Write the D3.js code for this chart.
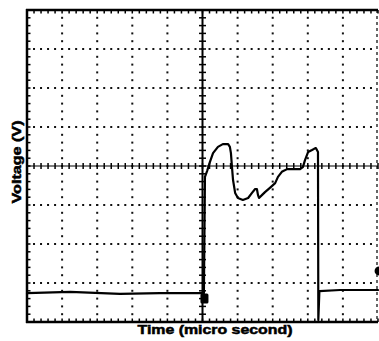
<!DOCTYPE html>
<html>
<head>
<meta charset="utf-8">
<script src="https://cdn.jsdelivr.net/npm/d3@7"></script>
<style>
  html, body { margin: 0; padding: 0; background: #fff; }
  svg { display: block; }
</style>
</head>
<body>
<svg id="chart" width="379" height="341"></svg>
<script>
// ---- data (screen divisions) ----
const xDivisions = [0, 1, 2, 3, 4, 5, 6, 7, 8, 9, 10];
const yDivisions = [-4, -3, -2, -1, 0, 1, 2, 3, 4];
const xLabel = "Time (micro second)";
const yLabel = "Voltage (V)";

const traceTime = [0, 1.23, 2.65, 3.79, 5.04, 5.07, 5.13, 5.21, 5.30, 5.44, 5.58, 5.73, 5.78, 5.81, 5.84, 5.87,
  5.93, 6.01, 6.15, 6.30, 6.41, 6.50, 6.55, 6.58, 6.61, 6.70, 6.78, 6.92, 7.07, 7.15, 7.26, 7.41, 7.58, 7.78,
  7.86, 7.92, 8.01, 8.12, 8.18, 8.23, 8.26, 8.29, 8.30, 8.33, 8.92, 10];
const traceVolt = [-3.26, -3.23, -3.28, -3.26, -3.26, -0.28, -0.13, 0.10, 0.33, 0.49, 0.56, 0.56, 0.49, 0.33, -0.03, -0.36,
  -0.69, -0.82, -0.87, -0.82, -0.69, -0.59, -0.59, -0.74, -0.82, -0.74, -0.67, -0.56, -0.44, -0.28, -0.15, -0.08, -0.08, -0.08,
  -0.03, 0.15, 0.36, 0.41, 0.44, 0.46, 0.41, 0.36, -3.95, -3.21, -3.18, -3.18];

const triggerMarker = { t: 5.07, v: -3.4 };
const levelMarker = { t: 10.03, v: -2.69 };

// ---- layout ----
const svg = d3.select("#chart");
const x = d3.scaleLinear().domain([0, 10]).range([27, 378]);
const y = d3.scaleLinear().domain([-4, 4]).range([322, 10]);

const minorX = d3.range(0, 50 + 1).map(i => i / 5);
const minorY = d3.range(-20, 20 + 1).map(i => i / 5);

// dotted grid
const g = svg.append("g");
const innerY = yDivisions.filter(v => v !== 0 && v !== -4 && v !== 4);
const innerX = xDivisions.filter(v => v !== 5 && v !== 0 && v !== 10);
innerY.forEach(v => {
  g.selectAll(null).data(minorX.filter(t => t > 0 && t < 10)).enter().append("rect")
    .attr("x", t => x(t) - 1).attr("y", y(v) - 1).attr("width", 2).attr("height", 2).attr("fill", "#111");
});
innerX.forEach(t => {
  g.selectAll(null).data(minorY.filter(v => v > -4 && v < 4)).enter().append("rect")
    .attr("x", x(t) - 1).attr("y", v => y(v) - 1).attr("width", 2).attr("height", 2).attr("fill", "#111");
});

// center axes with cross ticks
svg.append("line").attr("x1", x(0)).attr("x2", x(10)).attr("y1", y(0)).attr("y2", y(0))
  .attr("stroke", "#000").attr("stroke-width", 1.2);
svg.selectAll(null).data(minorX).enter().append("line")
  .attr("x1", t => x(t)).attr("x2", t => x(t)).attr("y1", y(0) - 3).attr("y2", y(0) + 3)
  .attr("stroke", "#000").attr("stroke-width", 1.5);
svg.append("line").attr("x1", x(5)).attr("x2", x(5)).attr("y1", y(4)).attr("y2", y(-4))
  .attr("stroke", "#000").attr("stroke-width", 2);
svg.selectAll(null).data(minorY).enter().append("line")
  .attr("y1", v => y(v)).attr("y2", v => y(v)).attr("x1", x(5) - 3.5).attr("x2", x(5) + 3.5)
  .attr("stroke", "#000").attr("stroke-width", 1.5);

// border
svg.append("line").attr("x1", x(0) - 1).attr("x2", x(10)).attr("y1", y(4)).attr("y2", y(4))
  .attr("stroke", "#000").attr("stroke-width", 2.5);
svg.append("line").attr("x1", x(0) - 1).attr("x2", x(10)).attr("y1", y(-4)).attr("y2", y(-4))
  .attr("stroke", "#000").attr("stroke-width", 2.5);
svg.append("line").attr("x1", x(0)).attr("x2", x(0)).attr("y1", y(4) - 1).attr("y2", y(-4) + 1)
  .attr("stroke", "#000").attr("stroke-width", 2.5);
svg.append("line").attr("x1", x(10) - 1).attr("x2", x(10) - 1).attr("y1", y(4)).attr("y2", y(-4))
  .attr("stroke", "#000").attr("stroke-width", 1.2).attr("stroke-dasharray", "3 3");
// border ticks
svg.selectAll(null).data(minorX).enter().append("line")
  .attr("x1", t => x(t)).attr("x2", t => x(t)).attr("y1", y(4)).attr("y2", y(4) + 3.5)
  .attr("stroke", "#000").attr("stroke-width", 1.5);
svg.selectAll(null).data(minorX).enter().append("line")
  .attr("x1", t => x(t)).attr("x2", t => x(t)).attr("y1", y(-4)).attr("y2", y(-4) - 3.5)
  .attr("stroke", "#000").attr("stroke-width", 1.5);
svg.selectAll(null).data(minorY).enter().append("line")
  .attr("y1", v => y(v)).attr("y2", v => y(v)).attr("x1", x(0)).attr("x2", x(0) + 3.5)
  .attr("stroke", "#000").attr("stroke-width", 1.5);

// trace
const pts = traceTime.map((t, i) => [t, traceVolt[i]]);
svg.append("path").datum(pts)
  .attr("d", d3.line().x(d => x(d[0])).y(d => y(d[1])))
  .attr("fill", "none").attr("stroke", "#000").attr("stroke-width", 2.2)
  .attr("stroke-linejoin", "round").attr("stroke-linecap", "round");

// markers
svg.append("rect").attr("x", x(triggerMarker.t) - 4.5).attr("y", y(triggerMarker.v) - 5)
  .attr("width", 8).attr("height", 10).attr("rx", 1.5).attr("fill", "#000");
svg.append("circle").attr("cx", x(levelMarker.t)).attr("cy", y(levelMarker.v)).attr("r", 4.5).attr("fill", "#000");

// labels
svg.append("text").text(xLabel)
  .attr("x", 215).attr("y", 334).attr("text-anchor", "middle")
  .attr("font-family", "Liberation Sans, Arial, sans-serif").attr("font-weight", "bold")
  .attr("font-size", 12.5).attr("textLength", 155).attr("lengthAdjust", "spacingAndGlyphs")
  .attr("stroke", "#000").attr("stroke-width", 0.5);
svg.append("text").text(yLabel)
  .attr("transform", "translate(21,162) rotate(-90)").attr("text-anchor", "middle")
  .attr("font-family", "Liberation Sans, Arial, sans-serif").attr("font-weight", "bold")
  .attr("font-size", 12.5).attr("textLength", 83).attr("lengthAdjust", "spacingAndGlyphs")
  .attr("stroke", "#000").attr("stroke-width", 0.5);
</script>
</body>
</html>
